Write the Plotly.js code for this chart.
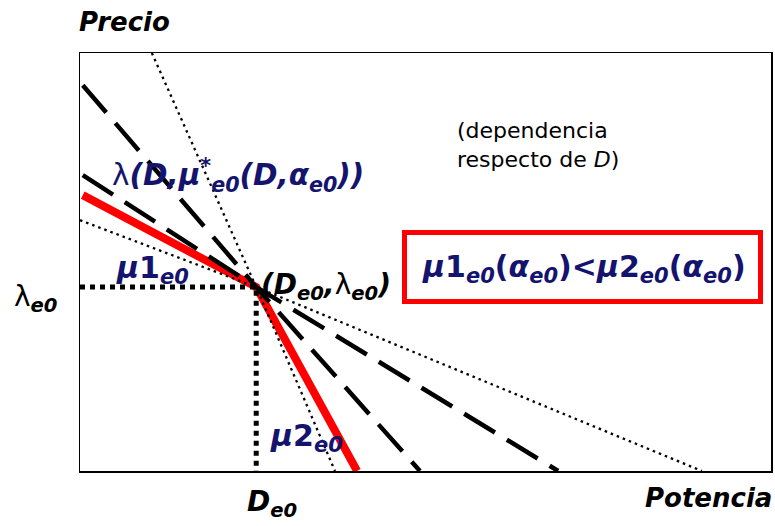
<!DOCTYPE html>
<html>
<head>
<meta charset="utf-8">
<script src="https://cdn.plot.ly/plotly-3.0.1.min.js"></script>
<style>
  html, body { margin: 0; padding: 0; background: #fff; }
  #chart { width: 775px; height: 526px; }
</style>
</head>
<body>
<div id="chart"></div>
<script>
// Operating point (D_e0, λ_e0) on a 0–100 power / price scale
const De0 = 25.5;
const Le0 = 44;

// Price curves through the operating point
const steepDottedX  = [10.4, De0, 36.9];
const steepDottedY  = [100, Le0, 0];
const steepDashedX  = [0.4, De0, 49.2];
const steepDashedY  = [92.3, Le0, 0];
const flatDashedX   = [0.4, De0, 69.2];
const flatDashedY   = [70.8, Le0, 0];
const flatDottedX   = [0, De0, 90];
const flatDottedY   = [60, Le0, 0];
// Kinked curve λ(D, μ*_e0(D, α_e0)): slope μ1 left of D_e0, μ2 right of it
const kinkedX       = [0.4, De0, 40.1];
const kinkedY       = [66, Le0, 0];
// Guide lines to the axes
const guideX        = [0, De0, De0];
const guideY        = [Le0, Le0, 0];

const NAVY = '#14146e';
const FONT = 'DejaVu Sans, Liberation Sans, Arial, sans-serif';

// plot area: left 80, top 53, width 691, height 418
const L = 80, T = 53, W = 691, H = 418;
const px = x => (x - L) / W;
const py = y => (T + H - y) / H;

function line(x, y, color, width, dash) {
  return { x, y, type: 'scatter', mode: 'lines', hoverinfo: 'skip', showlegend: false,
           line: { color, width, dash, shape: 'linear' } };
}

const traces = [
  line(kinkedX, kinkedY, '#ff0000', 8, 'solid'),
  line(steepDottedX, steepDottedY, '#000', 2.3, '2.5px,4px'),
  line(flatDottedX, flatDottedY, '#000', 2.3, '2.5px,4px'),
  line(steepDashedX, steepDashedY, '#000', 4.5, '36px,14px'),
  line(flatDashedX, flatDashedY, '#000', 4.5, '36px,14px'),
  line(guideX, guideY, '#000', 5, '5px,5px')
];

function note(text, x, y, size, color, extra) {
  return Object.assign({ text, x: px(x), y: py(y), xref: 'paper', yref: 'paper',
    showarrow: false, xanchor: 'center', yanchor: 'middle',
    font: { family: FONT, size, color } }, extra || {});
}

const annotations = [
  note('<b><i>Precio</i></b>', 124, 22, 26, '#000'),
  note('<b><i>Potencia</i></b>', 708, 498, 26, '#000'),
  note('λ<sub><b><i>e0</i></b></sub>', 36, 298, 28, '#000'),
  note('<b><i>D<sub>e0</sub></i></b>', 272, 503, 28, '#000'),
  note('λ<b><i>(D,μ<sup>*</sup><sub>e0</sub>(D,α<sub>e0</sub>))</i></b>', 238, 175, 29.5, NAVY),
  note('<b><i>μ</i>1<sub><i>e0</i></sub></b>', 152, 269, 30, NAVY),
  note('<b><i>(D<sub>e0</sub>,</i></b>λ<sub><b><i>e0</i></b></sub><b><i>)</i></b>', 326, 286, 28, '#000'),
  note('<b><i>μ</i>2<sub><i>e0</i></sub></b>', 306, 437, 30, NAVY),
  note('(dependencia<br>respecto de <i>D</i>)', 455, 145, 22, '#000', { xanchor: 'left', align: 'left' }),
  note('<b><i>μ</i>1<sub><i>e0</i></sub>(<i>α<sub>e0</sub></i>)&lt;<i>μ</i>2<sub><i>e0</i></sub>(<i>α<sub>e0</sub></i>)</b>',
       584, 268, 30, NAVY)
];

const shapes = [
  { type: 'rect', xref: 'paper', yref: 'paper',
    x0: px(404.5), x1: px(760.5), y0: py(301.5), y1: py(232.5),
    line: { color: '#ff0000', width: 5 }, fillcolor: 'rgba(0,0,0,0)' }
];

const axis = { range: [0, 100], showgrid: false, zeroline: false, showticklabels: false,
  ticks: '', showline: true, mirror: true, linecolor: '#000', linewidth: 1.5, fixedrange: true };

const layout = {
  width: 775, height: 526,
  margin: { l: L, r: 775 - L - W, t: T, b: 526 - T - H, pad: 0 },
  paper_bgcolor: '#fff', plot_bgcolor: '#fff',
  xaxis: axis, yaxis: Object.assign({}, axis),
  annotations, shapes, showlegend: false
};

Plotly.newPlot('chart', traces, layout, { displayModeBar: false, staticPlot: true });
</script>
</body>
</html>
